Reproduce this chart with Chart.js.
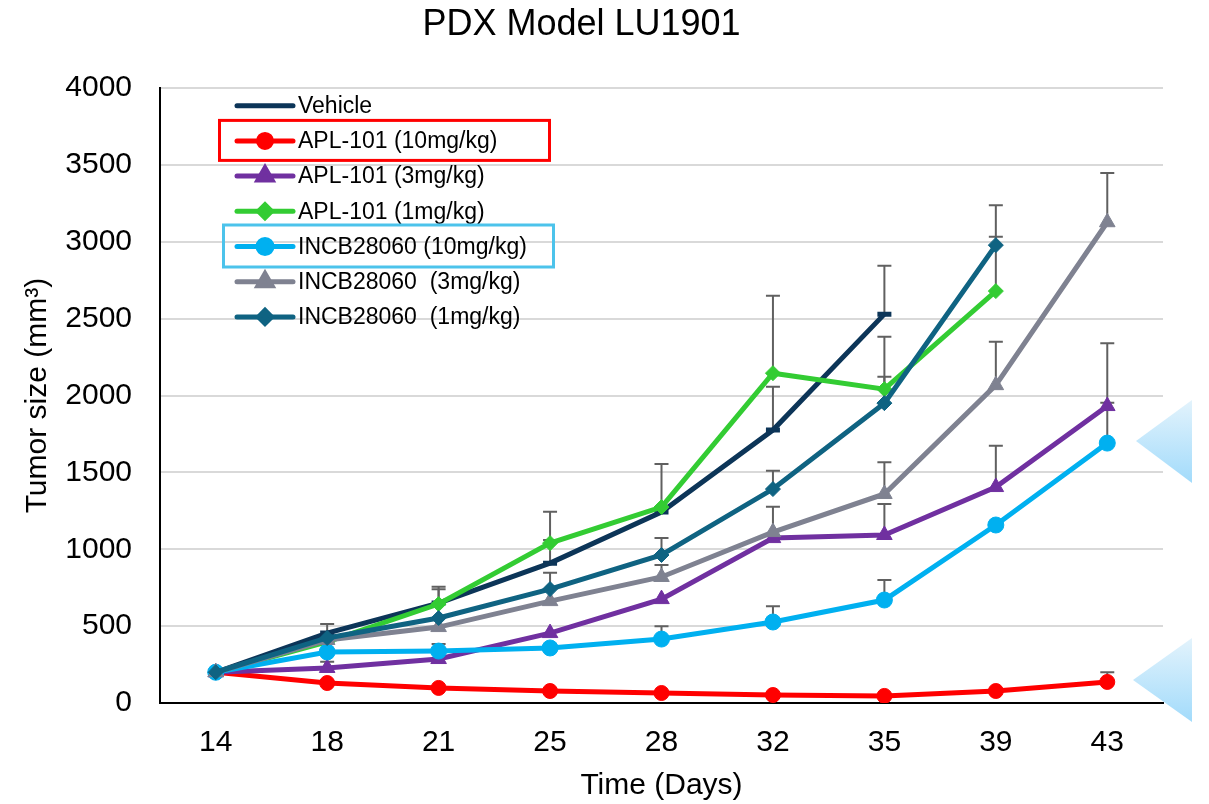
<!DOCTYPE html>
<html>
<head>
<meta charset="utf-8">
<script src="https://cdn.jsdelivr.net/npm/chart.js@4.4.1/dist/chart.umd.min.js"></script>
<style>
  html, body { margin: 0; background: #fff; }
  #wrap { width: 1209px; height: 804px; position: relative; }
</style>
</head>
<body>
<div id="wrap"><canvas id="chart"></canvas></div>
<script>
// days after implant
const days = ['14', '18', '21', '25', '28', '32', '35', '39', '43'];

// mean tumor volume (mm3)
const vehicle   = [200, 455, 650, 910, 1242, 1776, 2530, null, null];
const apl10     = [200, 130, 98, 78, 65, 52, 46, 78, 137];
const apl3      = [200, 228, 286, 455, 676, 1073, 1093, 1405, 1932];
const apl1      = [200, 397, 644, 1040, 1275, 2146, 2042, 2680, null];
const incb10    = [200, 332, 338, 358, 416, 527, 670, 1158, 1691];
const incb3     = [200, 410, 494, 663, 820, 1112, 1360, 2068, 3128];
const incb1     = [200, 423, 553, 741, 963, 1392, 1951, 2979, null];

// upper error (SEM) per point
const vehicleErr = [null, 59, 107, 150, null, 281, 315, null, null];
const apl10Err   = [null, null, null, null, null, null, null, null, 63];
const apl3Err    = [null, 41, null, null, null, null, 201, 268, 408];
const apl1Err    = [null, null, 96, 204, 280, 504, 80, 353, null];
const incb10Err  = [null, null, 46, null, 84, 103, 130, null, 262];
const incb3Err   = [null, null, null, null, 78, 165, 207, 282, 321];
const incb1Err   = [null, null, null, 107, 110, 119, 432, 260, null];

const FONT = '"Liberation Sans", Arial, sans-serif';
Chart.defaults.font.family = FONT;
Chart.defaults.color = '#000';

function series(label, data, err, color, style, radius, order) {
  return {
    label, data, sem: err,
    borderColor: color, backgroundColor: color,
    borderWidth: 5,
    pointStyle: style, pointRadius: radius, pointHoverRadius: radius,
    pointBorderWidth: style === 'line' ? 5 : 1,
    pointBackgroundColor: color, pointBorderColor: color,
    tension: 0, spanGaps: false, order,
  };
}

const datasets = [
  series('Vehicle', vehicle, vehicleErr, '#0c3558', 'line', 7, 7),
  series('APL-101 (10mg/kg)', apl10, apl10Err, '#ff0000', 'circle', 7.5, 6),
  series('APL-101 (3mg/kg)', apl3, apl3Err, '#7030a0', 'triangle', 9, 5),
  series('APL-101 (1mg/kg)', apl1, apl1Err, '#33cc33', 'rectRot', 7.5, 4),
  series('INCB28060 (10mg/kg)', incb10, incb10Err, '#00b0f0', 'circle', 8, 3),
  series('INCB28060  (3mg/kg)', incb3, incb3Err, '#7f8291', 'triangle', 9, 2),
  series('INCB28060  (1mg/kg)', incb1, incb1Err, '#0f6382', 'rectRot', 7.5, 1),
];

// error bars, upper side only
const errorBars = {
  id: 'errorBars',
  beforeDatasetsDraw(chart) {
    const { ctx, scales: { x, y } } = chart;
    ctx.save();
    ctx.strokeStyle = '#606060';
    ctx.lineWidth = 2;
    chart.data.datasets.forEach(ds => {
      (ds.sem || []).forEach((e, i) => {
        if (e == null || ds.data[i] == null) return;
        const px = x.getPixelForValue(i);
        const y0 = y.getPixelForValue(ds.data[i]);
        const y1 = y.getPixelForValue(ds.data[i] + e);
        ctx.beginPath();
        ctx.moveTo(px, y0); ctx.lineTo(px, y1);
        ctx.moveTo(px - 7, y1); ctx.lineTo(px + 7, y1);
        ctx.stroke();
      });
    });
    ctx.restore();
  }
};

// legend inside the plot + highlight boxes + side arrows
const extras = {
  id: 'extras',
  afterDraw(chart) {
    const { ctx } = chart;
    const x0 = 237, x1 = 293, tx = 298;
    const rowY = i => 105.7 + i * 35.2;
    ctx.save();
    chart.data.datasets.forEach((ds, i) => {
      const yy = rowY(i);
      ctx.strokeStyle = ds.borderColor;
      ctx.lineWidth = 5;
      ctx.lineCap = 'round';
      ctx.beginPath(); ctx.moveTo(x0, yy); ctx.lineTo(x1, yy); ctx.stroke();
      if (ds.pointStyle !== 'line') {
        ctx.fillStyle = ds.borderColor;
        Chart.helpers.drawPoint(ctx, {
          pointStyle: ds.pointStyle, radius: ds.pointRadius - 1, borderWidth: 1, rotation: 0
        }, (x0 + x1) / 2, yy);
      }
      ctx.fillStyle = '#000';
      ctx.font = '23px ' + FONT;
      ctx.textBaseline = 'middle';
      ctx.textAlign = 'left';
      ctx.fillText(ds.label, tx, yy + 1);
    });

    ctx.lineWidth = 3;
    ctx.strokeStyle = '#ff0000';
    ctx.strokeRect(219.5, rowY(1) - 20.5, 330, 40);
    ctx.strokeStyle = '#4cc3eb';
    ctx.strokeRect(223.5, rowY(4) - 21.5, 330, 42);

    const tri = (tipX, tipY, rx, top, bot) => {
      const g = ctx.createLinearGradient(0, top, 0, bot);
      g.addColorStop(0, '#e3f3fc');
      g.addColorStop(1, '#a2dbfb');
      ctx.fillStyle = g;
      ctx.beginPath();
      ctx.moveTo(tipX, tipY); ctx.lineTo(rx, top); ctx.lineTo(rx, bot);
      ctx.closePath(); ctx.fill();
    };
    tri(1136, 441, 1192, 400, 483);
    tri(1133, 680, 1192, 638, 722);
    ctx.restore();
  }
};

new Chart(document.getElementById('chart'), {
  type: 'line',
  data: { labels: days, datasets },
  plugins: [errorBars, extras],
  options: {
    responsive: true,
    maintainAspectRatio: false,
    animation: false,
    layout: { padding: { left: 0, right: 46, top: 0, bottom: 0 } },
    plugins: {
      legend: { display: false },
      tooltip: { enabled: false },
      title: {
        display: true,
        text: 'PDX Model LU1901',
        font: { size: 36, weight: 'normal' },
        color: '#000',
        padding: { top: 3, bottom: 42 },
      },
    },
    scales: {
      x: {
        offset: true,
        grid: { display: false, drawTicks: false },
        border: { color: '#000', width: 2 },
        ticks: { font: { size: 30 }, padding: 22, color: '#000' },
        title: { display: true, text: 'Time (Days)', font: { size: 30 }, color: '#000', padding: { top: 0, bottom: 0 } },
        afterFit: s => { s.height = 101; },
      },
      y: {
        min: 0, max: 4000,
        grid: { color: '#d9d9d9', lineWidth: 2, drawTicks: false },
        border: { color: '#000', width: 2 },
        ticks: { stepSize: 500, font: { size: 30 }, padding: 28, color: '#000', callback: v => String(v) },
        title: { display: true, text: 'Tumor size (mm³)', font: { size: 30 }, color: '#000', padding: { top: 20, bottom: 0 } },
        afterFit: s => { s.width = 160; },
      },
    },
  },
});
</script>
</body>
</html>
